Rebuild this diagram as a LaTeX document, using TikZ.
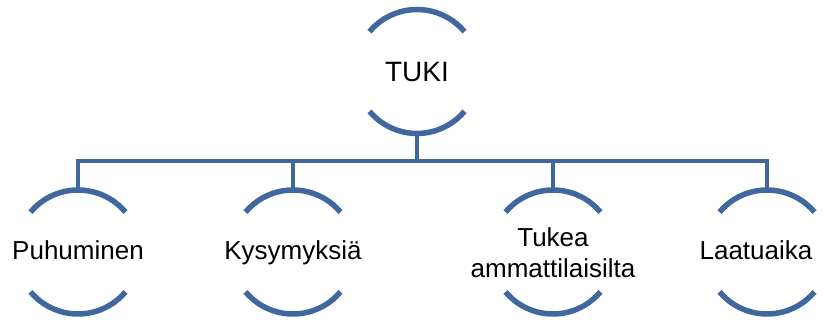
\documentclass[tikz,border=0pt]{standalone}
\usepackage{fontspec}
\setmainfont{Liberation Sans}
\definecolor{arcblue}{RGB}{64,104,158}
\begin{document}
\begin{tikzpicture}[x=1pt,y=1pt,
  circ/.style={circle,minimum size=124pt,inner sep=0pt,outer sep=0pt,draw=none},
  arcline/.style={draw=arcblue,line width=5.5pt},
  conn/.style={draw=arcblue,line width=4.5pt},
  lbl/.style={font=\fontsize{26}{31}\selectfont,anchor=base,align=center,inner sep=0pt},
  toplbl/.style={font=\fontsize{28}{33}\selectfont,anchor=base,inner sep=0pt}]
\useasboundingbox (0,0) rectangle (828,320);
% circles (invisible holders)
\node[circ] (c0) at (417,248.5) {};
\node[circ] (c1) at (78,68) {};
\node[circ] (c2) at (293,68) {};
\node[circ] (c3) at (553,68) {};
\node[circ] (c4) at (767,68) {};
\coordinate (bar) at (0,159);
% arcs
\foreach \c in {c0,c1,c2,c3,c4}{
  \draw[arcline] (\c.140) arc[start angle=140,end angle=40,radius=62pt];
  \draw[arcline] (\c.220) arc[start angle=220,end angle=320,radius=62pt];
}
% connectors
\draw[conn] (c0.south) -- (c0.south |- bar);
\draw[conn] (c1.north) -- (c1.north |- bar) -- (c4.north |- bar) -- (c4.north);
\draw[conn] (c2.north) -- (c2.north |- bar);
\draw[conn] (c3.north) -- (c3.north |- bar);
% labels
\node[toplbl] (t0) at (417,238) {TUKI};
\node[lbl] (t1) at (78,60) {Puhuminen};
\node[lbl] (t2) at (293,60) {Kysymyksiä};
\node[lbl] (t3) at (553,42) {Tukea\\ammattilaisilta};
\node[lbl] (t4) at (756,60) {Laatuaika};
\end{tikzpicture}
\end{document}
